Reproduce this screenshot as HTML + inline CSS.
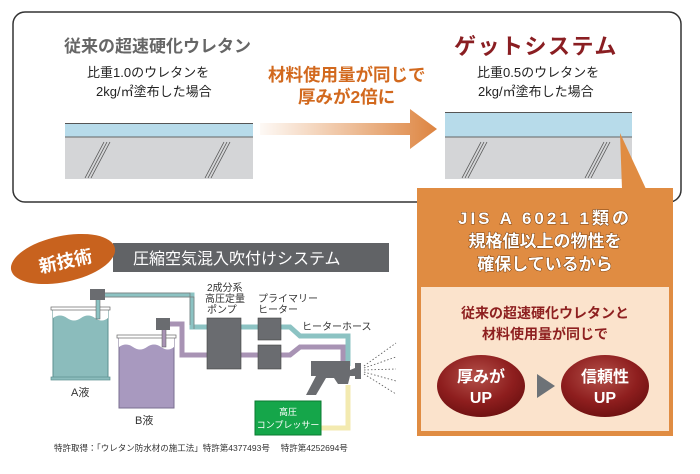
<!DOCTYPE html>
<html><head><meta charset="utf-8"><style>
body{margin:0;background:#fff;width:700px;height:469px;overflow:hidden;font-family:"Liberation Sans","Noto Sans CJK JP",sans-serif}
svg text{font-family:"Liberation Sans","Noto Sans CJK JP",sans-serif}
</style></head><body>
<svg width="700" height="469" viewBox="0 0 700 469" xmlns="http://www.w3.org/2000/svg">
<defs>
<linearGradient id="ar" x1="0" x2="1"><stop offset="0" stop-color="#e08a44" stop-opacity="0.05"/><stop offset="1" stop-color="#dd8440"/></linearGradient>
<radialGradient id="ov" cx="0.45" cy="0.35" r="0.7"><stop offset="0" stop-color="#b4514a"/><stop offset="0.6" stop-color="#8e1e1e"/><stop offset="1" stop-color="#6a1010"/></radialGradient>
</defs>
<rect x="13" y="12" width="668" height="190" rx="12" fill="#fff" stroke="#333" stroke-width="1.5"/>
<text x="64" y="52" font-size="17" font-weight="bold" fill="#666">従来の超速硬化ウレタン</text>
<text x="87" y="77" font-size="13" fill="#222">比重1.0のウレタンを</text>
<text x="96" y="96" font-size="13" fill="#222">2kg/㎡塗布した場合</text>
<text x="454" y="54" font-size="22" font-weight="bold" fill="#8a1e22" letter-spacing="1.5">ゲットシステム</text>
<text x="477" y="77" font-size="13" fill="#222">比重0.5のウレタンを</text>
<text x="478" y="96" font-size="13" fill="#222">2kg/㎡塗布した場合</text>
<text x="268" y="81" font-size="17.5" font-weight="bold" fill="#d2691e">材料使用量が同じで</text>
<text x="298" y="103" font-size="17.5" font-weight="bold" fill="#d2691e">厚みが2倍に</text>
<polygon points="260,123 410,123 410,109 437,129 410,149 410,135 260,135" fill="url(#ar)"/>
<!-- left slab -->
<rect x="65" y="124" width="188" height="13" fill="#b7dbea"/>
<line x1="65" y1="123.5" x2="253" y2="123.5" stroke="#555"/>
<rect x="65" y="137" width="188" height="42" fill="#d4d5d7"/>
<line x1="65" y1="137" x2="253" y2="137" stroke="#666"/>
<g stroke="#555" stroke-width="0.8"><line x1="85" y1="178" x2="104" y2="142"/><line x1="88" y1="178" x2="107" y2="142"/><line x1="91" y1="178" x2="110" y2="142"/><line x1="205" y1="178" x2="224" y2="142"/><line x1="208" y1="178" x2="227" y2="142"/><line x1="211" y1="178" x2="230" y2="142"/></g>
<!-- right slab -->
<rect x="445" y="113" width="187" height="24" fill="#b7dbea"/>
<line x1="445" y1="112.5" x2="632" y2="112.5" stroke="#555"/>
<rect x="445" y="137" width="187" height="42" fill="#d4d5d7"/>
<line x1="445" y1="137" x2="632" y2="137" stroke="#666"/>
<g stroke="#555" stroke-width="0.8"><line x1="462" y1="178" x2="481" y2="142"/><line x1="465" y1="178" x2="484" y2="142"/><line x1="468" y1="178" x2="487" y2="142"/><line x1="585" y1="178" x2="604" y2="142"/><line x1="588" y1="178" x2="607" y2="142"/><line x1="591" y1="178" x2="610" y2="142"/></g>
<!-- orange callout -->
<rect x="417" y="188" width="256" height="248" fill="#e08c42"/>
<polygon points="620,133 622,189 646,189" fill="#e08c42"/>
<rect x="421" y="287" width="248" height="144" fill="#fbe3cc"/>
<g font-weight="bold" fill="#fff" font-size="17" text-anchor="middle" style="paint-order:stroke" stroke="#7a4010" stroke-width="1">
<text x="545" y="224" letter-spacing="3">JIS A 6021 1類の</text>
<text x="545" y="247">規格値以上の物性を</text>
<text x="545" y="270">確保しているから</text>
</g>
<text x="545" y="318" font-size="14" font-weight="bold" fill="#8e2020" text-anchor="middle">従来の超速硬化ウレタンと</text>
<text x="545" y="339" font-size="14" font-weight="bold" fill="#8e2020" text-anchor="middle">材料使用量が同じで</text>
<ellipse cx="481" cy="386" rx="44" ry="31" fill="url(#ov)"/>
<ellipse cx="605" cy="386" rx="44" ry="31" fill="url(#ov)"/>
<polygon points="537,374 537,398 555,386" fill="#6d7277"/>
<g font-weight="bold" fill="#fff" font-size="16" text-anchor="middle">
<text x="481" y="382">厚みが</text><text x="481" y="403">UP</text>
<text x="605" y="382">信頼性</text><text x="605" y="403">UP</text>
</g>
<!-- bottom left -->
<rect x="113" y="243" width="276" height="29" fill="#616366"/>
<text x="133" y="264" font-size="16" fill="#fff">圧縮空気混入吹付けシステム</text>
<ellipse cx="63" cy="259" rx="53" ry="23" transform="rotate(-12 63 259)" fill="#c8621e"/>
<text x="38" y="268" font-size="18" font-weight="bold" fill="#fff" transform="rotate(-12 63 259)">新技術</text>
<!-- pipes -->
<g fill="none" stroke-width="5" stroke-linejoin="miter">
<polyline points="97,295 192,295 192,327 207,327" stroke="#8cc3c3"/>
<polyline points="241,327 258,327" stroke="#8cc3c3"/>
<polyline points="281,327 290,327 300,336 348,336 348,366" stroke="#8cc3c3"/>
<polyline points="163,324 182,324 182,355 207,355" stroke="#a893b4"/>
<polyline points="241,355 258,355" stroke="#a893b4"/>
<polyline points="281,355 290,355 300,347 343,347 343,366" stroke="#a893b4"/>
<polyline points="321,428 348,428 348,385" stroke="#f3eab0"/>
</g>
<g fill="none" stroke="#777" stroke-width="0.7">
<polyline points="97,293 190,293 190,325"/><polyline points="97,297 194,297 194,329"/>
</g>
<!-- drums -->
<rect x="53" y="310" width="55" height="68" fill="#8bbcbc" stroke="#5c8f8f"/>
<path d="M53 318 q7 -5 14 0 t14 0 t14 0 t13 0 V310 H53z" fill="#fff"/>
<rect x="51" y="307" width="59" height="3" fill="#fff" stroke="#666" stroke-width="0.7"/>
<rect x="51" y="377" width="59" height="3" fill="#8bbcbc" stroke="#5c8f8f" stroke-width="0.7"/>
<rect x="96" y="299" width="4" height="20" fill="#8cc3c3" stroke="#555" stroke-width="0.5"/>
<rect x="90" y="289" width="15" height="11" fill="#6a6c70"/>
<rect x="119" y="338" width="55" height="70" fill="#a899bf" stroke="#7a6f90"/>
<path d="M119 347 q7 -5 14 0 t14 0 t14 0 t13 0 V338 H119z" fill="#fff"/>
<rect x="117" y="335" width="59" height="3" fill="#fff" stroke="#666" stroke-width="0.7"/>
<rect x="162" y="329" width="4" height="18" fill="#a893b4" stroke="#555" stroke-width="0.5"/>
<rect x="156" y="318" width="14" height="12" fill="#6a6c70"/>
<text x="71" y="396" font-size="11" fill="#333">A液</text>
<text x="135" y="424" font-size="11" fill="#333">B液</text>
<!-- machines -->
<rect x="207" y="318" width="34" height="51" fill="#6a6c70" stroke="#444" stroke-width="0.6"/>
<rect x="258" y="318" width="23" height="22" fill="#6a6c70" stroke="#444" stroke-width="0.6"/>
<rect x="258" y="345" width="23" height="24" fill="#6a6c70" stroke="#444" stroke-width="0.6"/>
<g font-size="10" fill="#333">
<text x="207" y="291">2成分系</text><text x="205" y="302">高圧定量</text><text x="207" y="313">ポンプ</text>
<text x="258" y="302">プライマリー</text><text x="258" y="313">ヒーター</text>
<text x="302" y="330">ヒーターホース</text>
</g>
<!-- gun -->
<path d="M311 361 L350 361 L350 370 L355 368 L355 376 L350 376 L348 384 L338 384 L334 378 L326 378 L316 395 L306 395 L316 376 L311 376 Z" fill="#6a6c70"/>
<rect x="355" y="363" width="6" height="16" fill="#6a6c70"/>
<g stroke="#555" stroke-width="0.8" stroke-dasharray="1.5,2">
<line x1="364" y1="366" x2="396" y2="343"/><line x1="364" y1="368" x2="396" y2="357"/><line x1="364" y1="370" x2="396" y2="369"/><line x1="364" y1="372" x2="396" y2="381"/><line x1="364" y1="374" x2="396" y2="394"/>
</g>
<rect x="255" y="401" width="66" height="34" fill="#15a64a" stroke="#0a7a30"/>
<text x="288" y="415" font-size="9" fill="#fff" text-anchor="middle">高圧</text>
<text x="288" y="428" font-size="9" fill="#fff" text-anchor="middle">コンプレッサー</text>
<text x="54" y="451" font-size="8.5" fill="#333">特許取得：「ウレタン防水材の施工法」特許第4377493号　 特許第4252694号</text>
</svg>
</body></html>
